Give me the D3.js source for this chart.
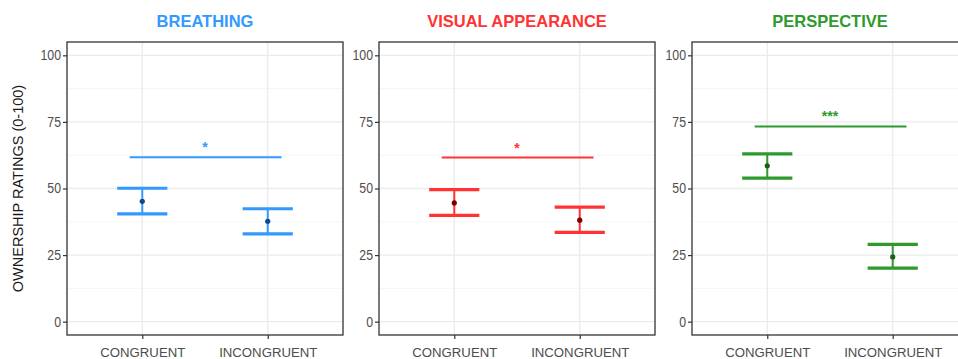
<!DOCTYPE html>
<html>
<head>
<meta charset="utf-8">
<script src="https://cdn.jsdelivr.net/npm/d3@7"></script>
<style>
  html, body { margin: 0; padding: 0; background: #fff; }
  svg { display: block; }
  text { font-family: "Liberation Sans", Arial, sans-serif; }
</style>
</head>
<body>
<svg id="chart" width="958" height="359"></svg>
<script>
// Conditions shown on every panel's x axis
const conditions = ["CONGRUENT", "INCONGRUENT"];
// Panel titles and their colours
const panelTitles = ["BREATHING", "VISUAL APPEARANCE", "PERSPECTIVE"];
const panelColors = ["#3399FF", "#FF3333", "#2E9A2E"];
const pointColors = ["#0B4A8C", "#7A0000", "#1B5E1B"];
// Mean ownership ratings per panel (congruent, incongruent)
const means = [[45.2, 37.7], [44.6, 38.1], [58.5, 24.3]];
// Error bar limits per panel
const upper = [[50.1, 42.4], [49.6, 43.0], [63.0, 29.0]];
const lower = [[40.5, 33.0], [39.9, 33.5], [53.9, 20.1]];
// Significance bar height and label per panel
const sigLevel = [61.7, 61.6, 73.3];
const sigLabel = ["*", "*", "***"];
// y axis ticks
const yTicks = [0, 25, 50, 75, 100];
const yMinor = [12.5, 37.5, 62.5, 87.5];
const yTitle = "OWNERSHIP RATINGS (0-100)";

const svg = d3.select("#chart");
const panelLeft = [67, 379, 692];
const panelWidth = 276;
const plotTop = 42, plotBottom = 335;

const y = d3.scaleLinear().domain([-5, 105]).range([plotBottom, plotTop]);

panelLeft.forEach((left, i) => {
  const x = d3.scaleLinear().domain([0.4, 2.6]).range([left, left + panelWidth]);
  const g = svg.append("g");

  // grid
  g.selectAll(".minor").data(yMinor).join("line")
    .attr("x1", left).attr("x2", left + panelWidth)
    .attr("y1", d => y(d)).attr("y2", d => y(d))
    .attr("stroke", "#F2F2F2").attr("stroke-width", 0.8);
  g.selectAll(".major").data(yTicks).join("line")
    .attr("x1", left).attr("x2", left + panelWidth)
    .attr("y1", d => y(d)).attr("y2", d => y(d))
    .attr("stroke", "#EBEBEB").attr("stroke-width", 1.3);
  g.selectAll(".vgrid").data([1, 2]).join("line")
    .attr("x1", d => x(d)).attr("x2", d => x(d))
    .attr("y1", plotTop).attr("y2", plotBottom)
    .attr("stroke", "#EBEBEB").attr("stroke-width", 1.3);

  // y axis
  const yAxis = d3.axisLeft(y).tickValues(yTicks).tickSize(4).tickPadding(2);
  const ya = g.append("g").attr("transform", `translate(${left},0)`).call(yAxis);
  ya.select(".domain").remove();
  ya.selectAll(".tick line").attr("stroke", "#333").attr("stroke-width", 1.2);
  ya.selectAll(".tick text").attr("fill", "#4D4D4D").attr("font-size", 14)
    .attr("font-family", "Liberation Sans, Arial, sans-serif")
    .attr("transform", "scale(0.88,1)").attr("x", -6 / 0.88);

  // x axis
  const xAxis = d3.axisBottom(x).tickValues([1, 2])
    .tickFormat(d => conditions[d - 1]).tickSize(4).tickPadding(9);
  const xa = g.append("g").attr("transform", `translate(0,${plotBottom})`).call(xAxis);
  xa.select(".domain").remove();
  xa.selectAll(".tick line").attr("stroke", "#333").attr("stroke-width", 1.2);
  xa.selectAll(".tick text").attr("fill", "#4D4D4D").attr("font-size", 13.2)
    .attr("font-family", "Liberation Sans, Arial, sans-serif");

  // panel border
  g.append("rect").attr("x", left).attr("y", plotTop)
    .attr("width", panelWidth).attr("height", plotBottom - plotTop)
    .attr("fill", "none").attr("stroke", "#333").attr("stroke-width", 1.3);

  const col = panelColors[i];
  const halfCap = 0.2;
  conditions.forEach((c, j) => {
    const cx = x(j + 1);
    g.append("line").attr("x1", cx).attr("x2", cx)
      .attr("y1", y(upper[i][j])).attr("y2", y(lower[i][j]))
      .attr("stroke", col).attr("stroke-width", 2);
    [upper[i][j], lower[i][j]].forEach(v => {
      g.append("line").attr("x1", x(j + 1 - halfCap)).attr("x2", x(j + 1 + halfCap))
        .attr("y1", y(v)).attr("y2", y(v))
        .attr("stroke", col).attr("stroke-width", 3.2);
    });
    g.append("circle").attr("cx", cx).attr("cy", y(means[i][j])).attr("r", 2.6)
      .attr("fill", pointColors[i]);
  });

  // significance bar
  g.append("line").attr("x1", x(0.9)).attr("x2", x(2.11))
    .attr("y1", y(sigLevel[i])).attr("y2", y(sigLevel[i]))
    .attr("stroke", col).attr("stroke-width", 2);
  g.append("text").attr("x", x(1.5)).attr("y", y(sigLevel[i]) - 5)
    .attr("text-anchor", "middle").attr("fill", col)
    .attr("font-size", 14).attr("font-weight", "bold")
    .text(sigLabel[i]);

  // title
  g.append("text").attr("x", left + panelWidth / 2).attr("y", 27)
    .attr("text-anchor", "middle").attr("fill", col)
    .attr("font-size", 16.5).attr("font-weight", "bold")
    .text(panelTitles[i]);
});

svg.append("text")
  .attr("transform", `translate(23,${(plotTop + plotBottom) / 2}) rotate(-90)`)
  .attr("text-anchor", "middle").attr("fill", "#1A1A1A")
  .attr("font-size", 14.5)
  .text(yTitle);
</script>
</body>
</html>
